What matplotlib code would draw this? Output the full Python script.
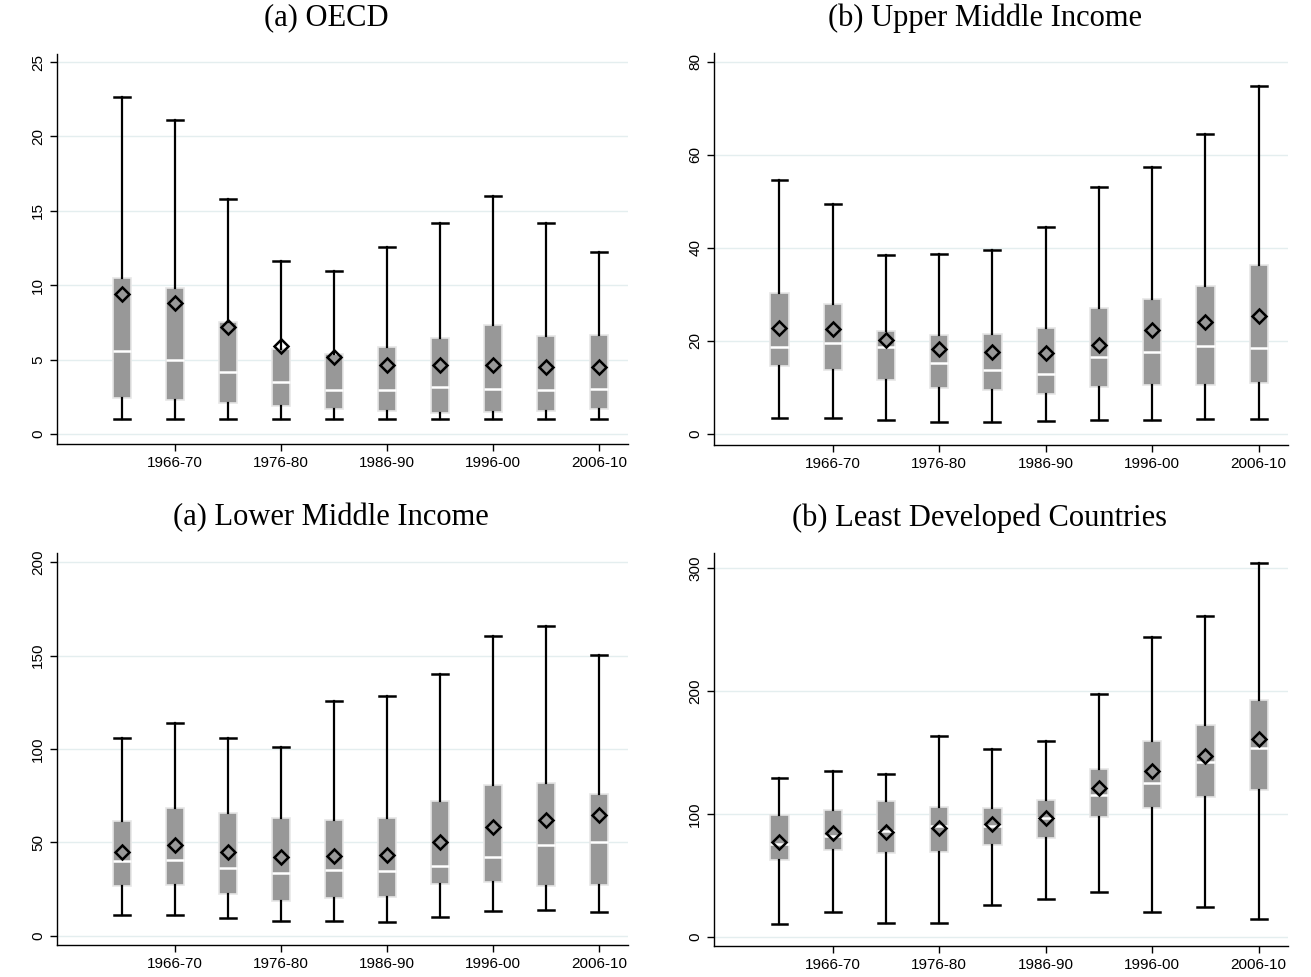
import matplotlib
matplotlib.use("Agg")
import matplotlib.pyplot as plt

periods = ["1961-65", "1966-70", "1971-75", "1976-80", "1981-85",
           "1986-90", "1991-95", "1996-00", "2001-05", "2006-10"]

# (a) OECD
oecd_whislo = [1.0, 1.0, 1.0, 1.0, 1.0, 1.0, 1.0, 1.0, 1.0, 1.0]
oecd_q1 = [2.42, 2.31, 2.08, 1.90, 1.70, 1.52, 1.41, 1.46, 1.57, 1.70]
oecd_med = [5.56, 5.0, 4.17, 3.47, 2.98, 2.98, 3.14, 3.0, 2.93, 3.05]
oecd_q3 = [10.48, 9.79, 7.55, 5.71, 5.38, 5.85, 6.45, 7.33, 6.56, 6.63]
oecd_whishi = [22.67, 21.1, 15.8, 11.65, 10.95, 12.54, 14.18, 15.99, 14.16, 12.25]
oecd_mean = [9.41, 8.80, 7.21, 5.94, 5.20, 4.61, 4.66, 4.66, 4.48, 4.48]

# (b) Upper Middle Income
umi_whislo = [3.4, 3.4, 3.1, 2.5, 2.5, 2.7, 3.1, 3.1, 3.2, 3.2]
umi_q1 = [14.7, 13.8, 11.5, 9.9, 9.4, 8.7, 10.0, 10.5, 10.5, 11.0]
umi_med = [18.6, 19.5, 18.6, 15.3, 13.7, 12.8, 16.6, 17.6, 18.9, 18.4]
umi_q3 = [30.3, 27.9, 22.2, 21.2, 21.4, 22.8, 27.1, 29.1, 31.9, 36.3]
umi_whishi = [54.6, 49.5, 38.5, 38.6, 39.6, 44.4, 53.0, 57.3, 64.5, 74.9]
umi_mean = [22.8, 22.6, 20.2, 18.2, 17.6, 17.4, 19.2, 22.3, 24.0, 25.3]

# (a) Lower Middle Income
lmi_whislo = [10.9, 11.2, 9.3, 8.0, 8.0, 7.1, 10.2, 13.2, 13.7, 12.9]
lmi_q1 = [26.4, 27.1, 22.1, 18.7, 20.0, 20.7, 27.7, 28.7, 26.8, 27.0]
lmi_med = [40.0, 40.5, 36.1, 33.7, 35.2, 34.8, 37.5, 42.3, 48.4, 50.2]
lmi_q3 = [61.4, 68.4, 65.7, 63.2, 62.1, 63.2, 72.3, 80.7, 81.6, 75.7]
lmi_whishi = [106.1, 113.9, 106.1, 101.2, 125.9, 128.4, 140.4, 160.5, 165.7, 150.4]
lmi_mean = [45.0, 48.6, 45.0, 42.0, 42.9, 43.2, 50.4, 58.0, 62.0, 64.6]

# (b) Least Developed Countries
ldc_whislo = [10.3, 19.8, 11.1, 11.1, 25.5, 30.6, 36.1, 19.8, 24.4, 14.1]
ldc_q1 = [62.4, 70.5, 68.3, 68.6, 74.6, 80.0, 97.1, 104.7, 113.6, 119.6]
ldc_med = [75.4, 82.2, 86.0, 90.0, 90.3, 96.8, 115.3, 125.3, 142.4, 153.2]
ldc_q3 = [99.3, 103.1, 110.7, 105.5, 105.0, 110.9, 136.2, 159.5, 172.0, 192.3]
ldc_whishi = [128.8, 134.5, 132.6, 163.0, 153.0, 159.5, 197.2, 243.8, 260.9, 303.8]
ldc_mean = [76.8, 84.1, 84.9, 88.1, 91.4, 96.8, 120.7, 134.8, 147.0, 160.6]

W, H = 1311, 977
panels = [
    ("(a) OECD", (oecd_whislo, oecd_q1, oecd_med, oecd_q3, oecd_whishi, oecd_mean),
     (57, 628, 54, 444), (-0.67, 25.54), [0, 5, 10, 15, 20, 25], (326, 18)),
    ("(b) Upper Middle Income", (umi_whislo, umi_q1, umi_med, umi_q3, umi_whishi, umi_mean),
     (714, 1288, 53, 445), (-2.37, 81.9), [0, 20, 40, 60, 80], (985, 18)),
    ("(a) Lower Middle Income", (lmi_whislo, lmi_q1, lmi_med, lmi_q3, lmi_whishi, lmi_mean),
     (57, 628, 553, 945), (-5.0, 205.0), [0, 50, 100, 150, 200], (331, 518)),
    ("(b) Least Developed Countries", (ldc_whislo, ldc_q1, ldc_med, ldc_q3, ldc_whishi, ldc_mean),
     (714, 1288, 553, 946), (-7.6, 312.2), [0, 100, 200, 300], (980, 518)),
]

plt.rcParams["font.family"] = ["Liberation Sans", "DejaVu Sans"]
fig = plt.figure(figsize=(W / 100, H / 100), dpi=100)

positions = list(range(1, len(periods) + 1))
for title, (lo, q1, med, q3, hi, mean), (l, r, t, b), ylim, yticks, tpos in panels:
    ax = fig.add_axes([l / W, 1 - b / H, (r - l) / W, (b - t) / H])
    stats = [dict(whislo=lo[i], q1=q1[i], med=med[i], q3=q3[i], whishi=hi[i],
                  mean=mean[i], fliers=[]) for i in range(len(periods))]
    ax.bxp(stats, positions=positions, widths=0.34, showmeans=True,
           patch_artist=True, showfliers=False,
           boxprops=dict(facecolor="#989898", edgecolor="#e6e6e6", linewidth=1.2),
           medianprops=dict(color="white", linewidth=1.8),
           whiskerprops=dict(color="black", linewidth=1.6),
           capprops=dict(color="black", linewidth=1.8),
           capwidths=0.3,
           meanprops=dict(marker="D", markerfacecolor="none",
                          markeredgecolor="black", markeredgewidth=1.8,
                          markersize=7.5))
    ax.set_xlim(-0.23, 10.55)
    ax.set_ylim(*ylim)
    ax.set_yticks(yticks)
    ax.set_yticklabels([str(v) for v in yticks], rotation=90, va="center")
    ax.set_xticks(positions[1::2])
    ax.set_xticklabels(periods[1::2])
    ax.tick_params(axis="both", labelsize=11, length=5, width=1, color="black")
    ax.grid(axis="y", color="#e4eeef", linewidth=1)
    ax.set_axisbelow(True)
    for s in ("top", "right"):
        ax.spines[s].set_visible(False)
    for s in ("left", "bottom"):
        ax.spines[s].set_linewidth(1)
    fig.text(tpos[0] / W, 1 - tpos[1] / H, title, ha="center", va="center",
             family=["Liberation Serif", "DejaVu Serif"], fontsize=22)

fig.savefig("out.png", dpi=100, facecolor="white")
